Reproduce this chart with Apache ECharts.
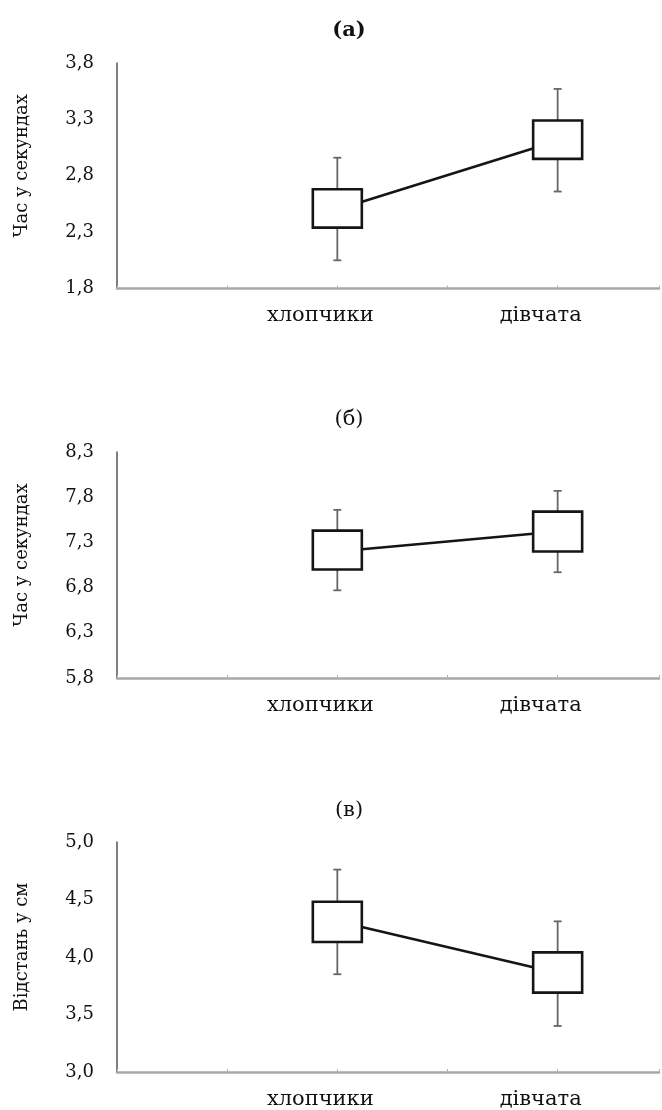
<!DOCTYPE html>
<html>
<head>
<meta charset="utf-8">
<script src="https://cdn.jsdelivr.net/npm/echarts@6/dist/echarts.min.js"></script>
<style>
  html, body { margin: 0; padding: 0; background: #ffffff; }
  #chart { width: 662px; height: 1110px; }
</style>
</head>
<body>
<div id="chart"></div>
<script>
// ---- data ----
const categories = ['хлопчики', 'дівчата'];
const categorySlots = [2, 4];            // position of each group on the x scale

const panelTitles = ['(а)', '(б)', '(в)'];
const yAxisNames = ['Час у секундах', 'Час у секундах', 'Відстань у см'];
const yMins = [1.8, 5.8, 3.0];
const yMaxs = [3.8, 8.3, 5.0];
const yStep = 0.5;

// panel (а)
const meansA     = [2.50, 3.11];
const boxLowA    = [2.34, 2.95];
const boxHighA   = [2.68, 3.29];
const whiskLowA  = [2.05, 2.66];
const whiskHighA = [2.96, 3.57];
// panel (б)
const meansB     = [7.20, 7.42];
const boxLowB    = [7.00, 7.20];
const boxHighB   = [7.43, 7.64];
const whiskLowB  = [6.77, 6.97];
const whiskHighB = [7.66, 7.87];
// panel (в)
const meansC     = [4.31, 3.86];
const boxLowC    = [4.13, 3.69];
const boxHighC   = [4.48, 4.04];
const whiskLowC  = [3.85, 3.40];
const whiskHighC = [4.76, 4.31];

const panels = [
  { means: meansA, boxLow: boxLowA, boxHigh: boxHighA, wLow: whiskLowA, wHigh: whiskHighA },
  { means: meansB, boxLow: boxLowB, boxHigh: boxHighB, wLow: whiskLowB, wHigh: whiskHighB },
  { means: meansC, boxLow: boxLowC, boxHigh: boxHighC, wLow: whiskLowC, wHigh: whiskHighC }
];

// ---- layout ----
const FONT = '"DejaVu Serif", "Liberation Serif", serif';
const gridTops = [63, 452, 842];
const gridHeights = [225.5, 226, 231];
const titleTops = [15, 404, 795];
const X_MAX = 4.92;
const BOX_W = 49;
const CAP_W = 8;

const chart = echarts.init(document.getElementById('chart'), null, { renderer: 'canvas' });

function renderBox(params, api) {
  const x = api.value(0);
  const pWHi = api.coord([x, api.value(5)]);
  const pBHi = api.coord([x, api.value(3)]);
  const pBLo = api.coord([x, api.value(2)]);
  const pWLo = api.coord([x, api.value(4)]);
  const cx = pBHi[0];
  const wStyle = { stroke: '#666666', lineWidth: 1.8, fill: null };
  return {
    type: 'group',
    children: [
      { type: 'line', shape: { x1: cx, y1: pWHi[1], x2: cx, y2: pBHi[1] }, style: wStyle },
      { type: 'line', shape: { x1: cx, y1: pBLo[1], x2: cx, y2: pWLo[1] }, style: wStyle },
      { type: 'line', shape: { x1: cx - CAP_W / 2, y1: pWHi[1], x2: cx + CAP_W / 2, y2: pWHi[1] }, style: wStyle },
      { type: 'line', shape: { x1: cx - CAP_W / 2, y1: pWLo[1], x2: cx + CAP_W / 2, y2: pWLo[1] }, style: wStyle },
      { type: 'rect', shape: { x: cx - BOX_W / 2, y: pBHi[1], width: BOX_W, height: pBLo[1] - pBHi[1] },
        style: { fill: '#ffffff', stroke: '#151515', lineWidth: 2.6 } }
    ]
  };
}

const grids = [], xAxes = [], yAxes = [], series = [], titles = [];
panels.forEach((p, i) => {
  grids.push({ left: 117, right: 0, top: gridTops[i], height: gridHeights[i], containLabel: false });
  titles.push({
    text: panelTitles[i], left: 344, top: titleTops[i], textAlign: 'center',
    textStyle: { fontFamily: FONT, fontSize: 21, fontWeight: i === 0 ? 'bold' : 'normal', color: '#111111' }
  });
  xAxes.push({
    type: 'value', gridIndex: i, min: 0, max: X_MAX, interval: 1,
    axisLine: { show: true, lineStyle: { color: '#a8a8a8', width: 2.5 } },
    axisTick: { show: true, inside: true, length: 3, lineStyle: { color: '#b0b0b0', width: 1 } },
    splitLine: { show: false },
    axisLabel: {
      fontFamily: FONT, fontSize: 21, color: '#111111', margin: 17,
      padding: [0, 34, 0, 0],
      formatter: v => { const k = categorySlots.indexOf(v); return k >= 0 ? categories[k] : ''; }
    }
  });
  yAxes.push({
    type: 'value', gridIndex: i, min: yMins[i], max: yMaxs[i], interval: yStep,
    name: yAxisNames[i], nameLocation: 'middle', nameRotate: 90, nameGap: 86,
    nameTextStyle: { fontFamily: FONT, fontSize: 18, color: '#111111', padding: [0, 0, 0, 20] },
    axisLine: { show: true, onZero: false, lineStyle: { color: '#555555', width: 1.5 } },
    axisTick: { show: false },
    splitLine: { show: false },
    axisLabel: {
      fontFamily: FONT, fontSize: 18, color: '#111111', margin: 23,
      formatter: v => v.toFixed(1).replace('.', ',')
    }
  });
  series.push({
    type: 'line', xAxisIndex: i, yAxisIndex: i, z: 2,
    data: p.means.map((m, k) => [categorySlots[k], m]),
    symbol: 'none', lineStyle: { color: '#151515', width: 2.6 }, silent: true, animation: false
  });
  series.push({
    type: 'custom', xAxisIndex: i, yAxisIndex: i, z: 3,
    renderItem: renderBox,
    encode: { x: 0, y: 1 },
    data: p.means.map((m, k) => [categorySlots[k], m, p.boxLow[k], p.boxHigh[k], p.wLow[k], p.wHigh[k]]),
    silent: true, animation: false
  });
});

chart.setOption({
  backgroundColor: '#ffffff',
  animation: false,
  title: titles,
  grid: grids,
  xAxis: xAxes,
  yAxis: yAxes,
  series: series
});
</script>
</body>
</html>
